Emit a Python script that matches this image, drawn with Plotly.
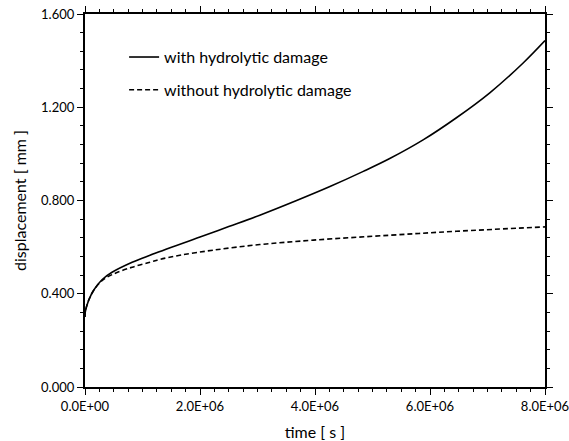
import plotly.graph_objects as go

# time [s] and displacement [mm] for both simulations
time_with = [0, 0.005e6, 0.064e6, 0.15e6, 0.3e6, 0.47e6, 0.82e6, 1.13e6,
             2.0e6, 2.5e6, 3.04e6, 3.68e6, 4.26e6, 4.84e6, 5.3e6, 5.88e6, 6.46e6,
             7.04e6, 7.62e6, 8.0e6]
disp_with = [0.30, 0.322, 0.372, 0.415, 0.461, 0.492, 0.535, 0.565,
             0.643, 0.688, 0.737, 0.80, 0.86, 0.925, 0.98, 1.06, 1.155,
             1.262, 1.39, 1.486]

time_without = [0, 0.005e6, 0.064e6, 0.15e6, 0.3e6, 0.47e6, 0.82e6, 1.13e6, 1.31e6,
                1.65e6, 2.23e6, 3.04e6, 3.97e6, 5.3e6, 6.46e6, 8.0e6]
disp_without = [0.30, 0.322, 0.372, 0.414, 0.457, 0.482, 0.514, 0.535, 0.548,
                0.565, 0.587, 0.611, 0.63, 0.651, 0.668, 0.687]

x_tickvals = [0, 2e6, 4e6, 6e6, 8e6]
x_ticktext = ["0.0E+00", "2.0E+06", "4.0E+06", "6.0E+06", "8.0E+06"]
y_tickvals = [0, 0.4, 0.8, 1.2, 1.6]
y_ticktext = ["0.000", "0.400", "0.800", "1.200", "1.600"]

FONT = "Lato, 'Open Sans', sans-serif"

fig = go.Figure()
fig.add_trace(go.Scatter(
    x=time_with, y=disp_with, mode="lines", name="with hydrolytic damage",
    line=dict(color="black", width=1.6, shape="spline", smoothing=1.0),
    legendgroup="a"))
fig.add_trace(go.Scatter(
    x=time_without, y=disp_without, mode="lines", name="without hydrolytic damage",
    line=dict(color="black", width=1.6, dash="5px,3px", shape="spline", smoothing=1.0),
    legendgroup="b"))

axis_common = dict(
    showline=True, linecolor="black", linewidth=2.2, mirror="allticks",
    ticks="outside", tickcolor="black", ticklen=6, tickwidth=1.2,
    showgrid=False, zeroline=False, ticklabeloverflow="allow", automargin=False,
    tickfont=dict(family=FONT, size=13, color="black"),
)

fig.update_xaxes(
    range=[0, 8e6], tickvals=x_tickvals, ticktext=x_ticktext,
    minor=dict(dtick=0.25e6, ticks="outside", ticklen=3, tickcolor="black", tickwidth=1),
    title=dict(text="time [ s ]", font=dict(family=FONT, size=16, color="black"), standoff=14),
    **axis_common)
fig.update_yaxes(
    range=[0, 1.6], tickvals=y_tickvals, ticktext=y_ticktext,
    minor=dict(dtick=0.08, ticks="outside", ticklen=3, tickcolor="black", tickwidth=1),
    title=dict(text="displacement [ mm ]", font=dict(family=FONT, size=16, color="black"), standoff=10),
    **axis_common)

fig.update_layout(
    width=569, height=441,
    margin=dict(l=85, r=24, t=14, b=54),
    paper_bgcolor="white", plot_bgcolor="white",
    showlegend=True,
    legend=dict(x=0.085, y=0.93, xanchor="left", yanchor="top",
                bgcolor="rgba(0,0,0,0)", tracegroupgap=9,
                font=dict(family=FONT, size=16, color="black")),
)

fig.write_html("out.html")
